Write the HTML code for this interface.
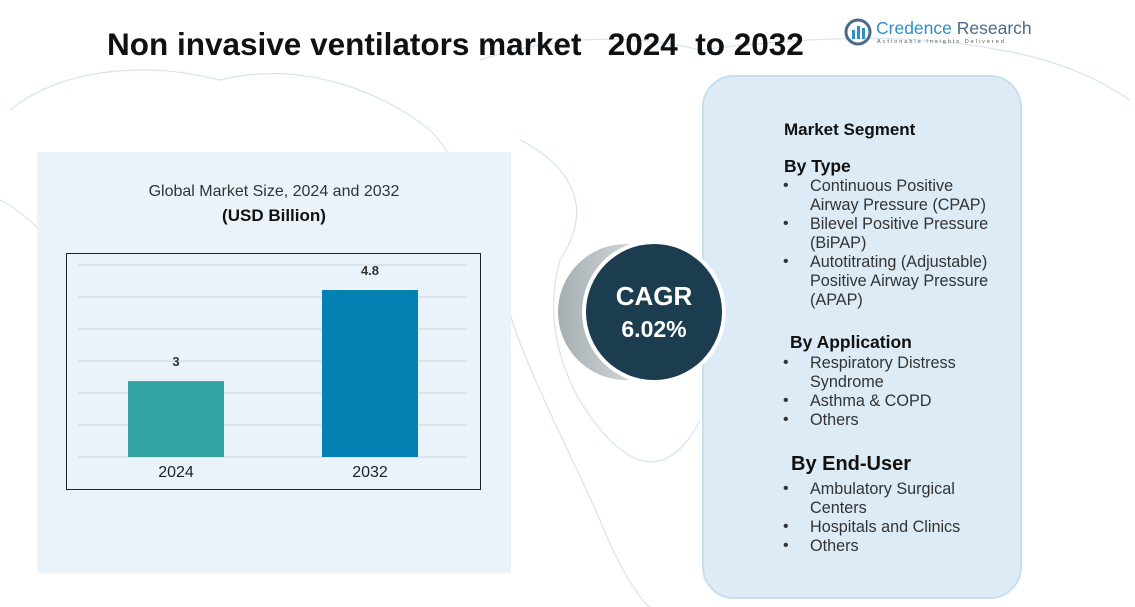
<!DOCTYPE html>
<html><head><meta charset="utf-8"><style>
body{margin:0;width:1135px;height:607px;overflow:hidden;background:#fff;font-family:"Liberation Sans",sans-serif;position:relative}
.a{position:absolute;white-space:nowrap}
.rp{position:absolute;left:702px;top:75px;width:316px;height:520px;border-radius:32px;background:#dcebf5;border:2px solid #c6def0}
.seg{position:absolute;font-size:16.5px;color:#222;line-height:19px}
.b{font-weight:bold;font-size:17.5px;color:#111}
.li{position:absolute;left:810px;font-size:16.2px;color:#333;line-height:19px}
.dot{position:absolute;left:783px;font-size:16px;color:#333}
</style></head><body>
<svg class="a" style="left:0;top:0" width="1135" height="607">
<g fill="none" stroke="#d5e4ee" stroke-width="1.2">
<path d="M10 110 C60 70 140 60 220 80 C300 60 380 90 430 130 C470 170 470 230 500 280 C520 360 560 430 600 520 C620 570 640 600 650 607"/>
<path d="M480 60 C540 40 620 30 700 50 C780 40 900 30 1000 50 C1060 60 1100 80 1130 100"/>
<path d="M520 140 C560 160 600 200 560 260 C540 330 570 400 610 440 C650 480 680 460 700 420"/>
<path d="M0 200 C40 220 60 260 120 300 C160 340 200 360 240 420"/>
</g></svg>
<div class="a" style="left:37px;top:152px;width:474px;height:421px;background:#eaf3fa"></div>
<div class="a" style="left:107px;top:26px;font-size:31.5px;font-weight:bold;color:#111">Non invasive ventilators market &nbsp; 2024 &nbsp;to 2032</div>
<div class="a" style="left:844px;top:18px">
<svg width="28" height="28"><circle cx="14" cy="14" r="12" fill="none" stroke="#4a6b86" stroke-width="3"/><rect x="8" y="12" width="3" height="9" fill="#2d8fc4"/><rect x="13" y="8" width="3" height="13" fill="#2d8fc4"/><rect x="18" y="10" width="3" height="11" fill="#2d8fc4"/></svg>
<span class="a" style="left:32px;top:0px;font-size:17.5px;color:#2d8fc4">Credence <span style="color:#4a6b86">Research</span></span>
<span class="a" style="left:33px;top:21px;font-size:5.5px;letter-spacing:2px;color:#555">Actionable Insights Delivered</span></div>
<div class="a" style="left:37px;width:474px;text-align:center;top:183px;font-size:16px;color:#333">Global Market Size, 2024 and 2032</div>
<div class="a" style="left:37px;width:474px;text-align:center;top:206px;font-size:17px;font-weight:bold;color:#111">(USD Billion)</div>
<svg class="a" id="chart" style="left:0;top:0" width="1135" height="607"></svg>
<div class="rp"></div>
<svg class="a" style="left:540px;top:220px" width="200" height="190">
<defs><linearGradient id="g" x1="0" x2="1"><stop offset="0" stop-color="#a6aeb2"/><stop offset="1" stop-color="#f4f6f7"/></linearGradient></defs>
<circle cx="86" cy="92" r="68" fill="url(#g)"/>
<circle cx="114" cy="92" r="72" fill="#fff"/>
<circle cx="114" cy="92" r="68" fill="#1b3d4f"/>
<text x="114" y="85" text-anchor="middle" font-family="Liberation Sans" font-weight="bold" font-size="26" fill="#fff">CAGR</text>
<text x="114" y="117" text-anchor="middle" font-family="Liberation Sans" font-weight="bold" font-size="23" fill="#fff">6.02%</text></svg>
<div class="seg b a" style="left:784px;top:120px;font-size:17px">Market Segment</div>
<div class="seg b a" style="left:784px;top:157px">By Type</div>
<div class="dot" style="top:177px">•</div><div class="li" style="top:177px">Continuous Positive<br>Airway Pressure (CPAP)</div>
<div class="dot" style="top:215px">•</div><div class="li" style="top:215px">Bilevel Positive Pressure<br>(BiPAP)</div>
<div class="dot" style="top:253px">•</div><div class="li" style="top:253px">Autotitrating (Adjustable)<br>Positive Airway Pressure<br>(APAP)</div>
<div class="seg b a" style="left:790px;top:333px">By Application</div>
<div class="dot" style="top:354px">•</div><div class="li" style="top:354px">Respiratory Distress<br>Syndrome</div>
<div class="dot" style="top:392px">•</div><div class="li" style="top:392px">Asthma &amp; COPD</div>
<div class="dot" style="top:411px">•</div><div class="li" style="top:411px">Others</div>
<div class="seg b a" style="left:791px;top:455px;font-size:20px">By End-User</div>
<div class="dot" style="top:480px">•</div><div class="li" style="top:480px">Ambulatory Surgical<br>Centers</div>
<div class="dot" style="top:518px">•</div><div class="li" style="top:518px">Hospitals and Clinics</div>
<div class="dot" style="top:537px">•</div><div class="li" style="top:537px">Others</div>
<script>
const categories=["2024","2032"];
const values=[3,4.8];
const valueLabels=["3","4.8"];
const colors=["#33a3a3","#0580b3"];
const svg=document.getElementById('chart');const NS="http://www.w3.org/2000/svg";
const base=457,yMin=1.5,pxPerUnit=50.6;
function y(v){return base-(v-yMin)*pxPerUnit;}
function x(i){return 128+i*194;}
function mk(t,a){const e=document.createElementNS(NS,t);for(const k in a)e.setAttribute(k,a[k]);svg.appendChild(e);return e;}
const box=mk('rect',{x:66.5,y:253.5,width:414,height:236,fill:'none',stroke:'#222','stroke-width':1});


for(let k=0;k<7;k++){const g=mk('line',{x1:78,x2:467,y1:base-k*32,y2:base-k*32,stroke:'#cfd6da','stroke-width':1});

}
categories.forEach((c,i)=>{
const r=mk('rect',{x:x(i),y:y(values[i]),width:96,height:base-y(values[i]),fill:colors[i]});


const t=mk('text',{x:x(i)+48,y:y(values[i])-15,'text-anchor':'middle','font-size':13,'font-weight':'bold',fill:'#333','font-family':'Liberation Sans'});t.textContent=valueLabels[i];


const l=mk('text',{x:x(i)+48,y:477,'text-anchor':'middle','font-size':16,fill:'#222','font-family':'Liberation Sans'});l.textContent=c;


});
</script>
</body></html>
